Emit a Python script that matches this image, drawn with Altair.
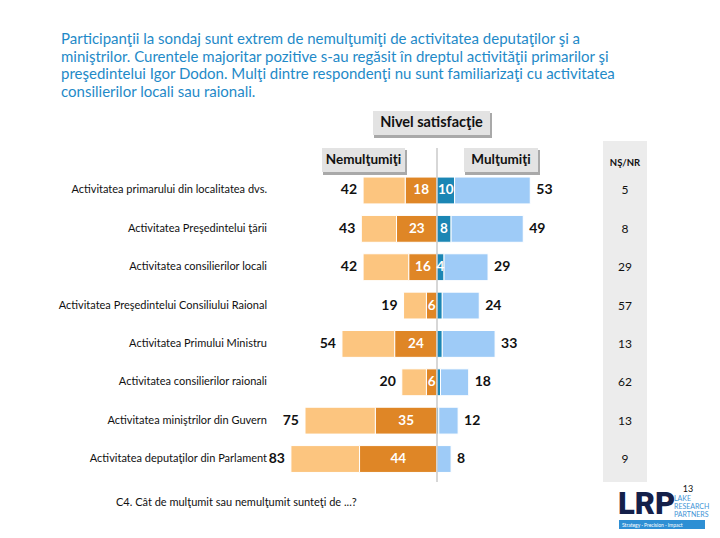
import altair as alt
import pandas as pd

# ---------------- data ----------------
categories = [
    "Activitatea primarului din localitatea dvs.",
    "Activitatea Preşedintelui ţării",
    "Activitatea consilierilor locali",
    "Activitatea Preşedintelui Consiliului Raional",
    "Activitatea Primului Ministru",
    "Activitatea consilierilor raionali",
    "Activitatea miniştrilor din Guvern",
    "Activitatea deputaţilor din Parlament",
]
nemultumiti_total = [42, 43, 42, 19, 54, 20, 75, 83]
nemultumiti_deloc = [18, 23, 16, 6, 24, 6, 35, 44]
multumiti_foarte = [10, 8, 4, 3, 3, 2, 1, 0]
multumiti_total = [53, 49, 29, 24, 33, 18, 12, 8]
ns_nr = [5, 8, 29, 57, 13, 62, 13, 9]

title_lines = [
    "Participanţii la sondaj sunt extrem de nemulţumiţi de activitatea deputaţilor şi a",
    "miniştrilor. Curentele majoritar pozitive s-au regăsit în dreptul activităţii primarilor şi",
    "preşedintelui Igor Dodon. Mulţi dintre respondenţi nu sunt familiarizaţi cu activitatea",
    "consilierilor locali sau raionali.",
]
footnote = "C4. Cât de mulţumit sau nemulţumit sunteţi de ...?"

# ---------------- tables ----------------
seg_rows = []
for i, c in enumerate(categories):
    seg_rows.append(dict(cat=c, seg="a", x0=-nemultumiti_total[i], x1=-nemultumiti_deloc[i]))
    seg_rows.append(dict(cat=c, seg="b", x0=-nemultumiti_deloc[i], x1=0))
    seg_rows.append(dict(cat=c, seg="c", x0=0, x1=multumiti_foarte[i]))
    seg_rows.append(dict(cat=c, seg="d", x0=multumiti_foarte[i], x1=multumiti_total[i]))
segs = pd.DataFrame(seg_rows)

rows = pd.DataFrame(dict(
    cat=categories,
    neg=[-v for v in nemultumiti_total],
    neg_lbl=[str(v) for v in nemultumiti_total],
    negd=[-v / 2 for v in nemultumiti_deloc],
    negd_lbl=[str(v) for v in nemultumiti_deloc],
    pos=multumiti_total,
    pos_lbl=[str(v) for v in multumiti_total],
    posd=[v / 2 for v in multumiti_foarte],
    posd_lbl=[str(v) if v >= 4 else "" for v in multumiti_foarte],
    ns=[str(v) for v in ns_nr],
))

FONT = "Lato"
xscale = alt.Scale(domain=[-243.75, 156.25], nice=False, zero=False)
yscale = alt.Scale(domain=categories, range=[163.3, 470.2], paddingInner=0.3, paddingOuter=0.15)
X = lambda f: alt.X(f, type="quantitative", scale=xscale, axis=None)
Y = alt.Y("cat:N", scale=yscale, axis=None, sort=categories)

one = pd.DataFrame({"k": [0]})

def box(x0, x1, y0, y1, color):
    return alt.Chart(one).mark_rect(color=color).encode(
        x=alt.value(x0), x2=alt.value(x1), y=alt.value(y0), y2=alt.value(y1))

def txt(s, x, y, size, color="#111", weight="normal", align="left", font=FONT):
    return alt.Chart(one).mark_text(
        text=s, fontSize=size, color=color, fontWeight=weight, align=align,
        baseline="middle", font=font).encode(x=alt.value(x), y=alt.value(y))

layers = []
# NS/NR gray band
layers.append(box(595, 639, 133, 474, "#ececec"))
# header boxes with shadows
for (x0, x1, y0, y1) in [(365, 482, 103, 127), (314, 397, 140, 164), (456, 530, 140, 164)]:
    layers.append(box(x0 + 1, x1 + 2, y0 + 2, y1 + 3, "#a9a9a9"))
    layers.append(box(x0, x1, y0, y1, "#e3e3e3"))
layers.append(txt("Nivel satisfacţie", 423.5, 115, 14.5, "#111", "bold", "center"))
layers.append(txt("Nemulţumiţi", 355.5, 152, 13.5, "#111", "bold", "center"))
layers.append(txt("Mulţumiţi", 493, 152, 13.5, "#111", "bold", "center"))

# title
for k, line in enumerate(title_lines):
    layers.append(txt(line, 53, 31 + k * 17.5, 15, "#1f8ac8"))

# bars
bars = alt.Chart(segs).mark_bar(stroke="white", strokeWidth=1).encode(
    x=X("x0"), x2="x1", y=Y,
    color=alt.Color("seg:N", scale=alt.Scale(domain=["a", "b", "c", "d"],
                    range=["#fcc57f", "#df8626", "#1b86b4", "#9ecbf7"]), legend=None),
)
layers.append(bars)

# zero line
zero = alt.Chart(one).mark_rule(color="#bdbdbd", strokeWidth=1.2).encode(
    x=alt.X(datum=0, type="quantitative", scale=xscale, axis=None),
    y=alt.value(140), y2=alt.value(474))
layers.append(zero)

base = alt.Chart(rows)
layers.append(base.mark_text(align="right", baseline="middle", dx=-6, fontSize=14,
                             fontWeight="bold", font=FONT, color="#111").encode(
    x=X("neg"), y=Y, text="neg_lbl"))
layers.append(base.mark_text(align="left", baseline="middle", dx=6, fontSize=14,
                             fontWeight="bold", font=FONT, color="#111").encode(
    x=X("pos"), y=Y, text="pos_lbl"))
layers.append(base.mark_text(align="center", baseline="middle", fontSize=13.5,
                             fontWeight="bold", font=FONT, color="white").encode(
    x=X("negd"), y=Y, text="negd_lbl"))
layers.append(base.mark_text(align="center", baseline="middle", fontSize=13.5,
                             fontWeight="bold", font=FONT, color="white").encode(
    x=X("posd"), y=Y, text="posd_lbl"))
# category labels
layers.append(base.mark_text(align="right", baseline="middle", fontSize=11,
                             font=FONT, color="#111").encode(
    x=alt.value(259), y=Y, text="cat"))
# NS/NR
layers.append(txt("NŞ/NR", 617, 155, 9.5, "#111", "bold", "center"))
layers.append(base.mark_text(align="center", baseline="middle", fontSize=12,
                             font=FONT, color="#111").encode(
    x=alt.value(617), y=Y, text="ns"))

# footnote
layers.append(txt(footnote, 108, 495, 11, "#111"))

# logo
layers.append(txt("13", 680, 481, 9, "#111", "normal", "center"))
layers.append(txt("LRP", 610, 497, 31, "#14204a", 900, "left", "Roboto"))
for k, w in enumerate(["LAKE", "RESEARCH", "PARTNERS"]):
    layers.append(txt(w, 666, 490.5 + k * 8, 7, "#3f95d6"))
layers.append(box(611, 697, 512, 521, "#2e8fd4"))
layers.append(txt("Strategy · Precision · Impact", 614, 516.5, 5, "white"))

chart = alt.layer(*layers).properties(
    width=704, height=522, autosize="none", padding=0, background="white"
).configure_view(stroke=None)

chart.save("out.html", embed_options={"renderer": "svg", "actions": False})
